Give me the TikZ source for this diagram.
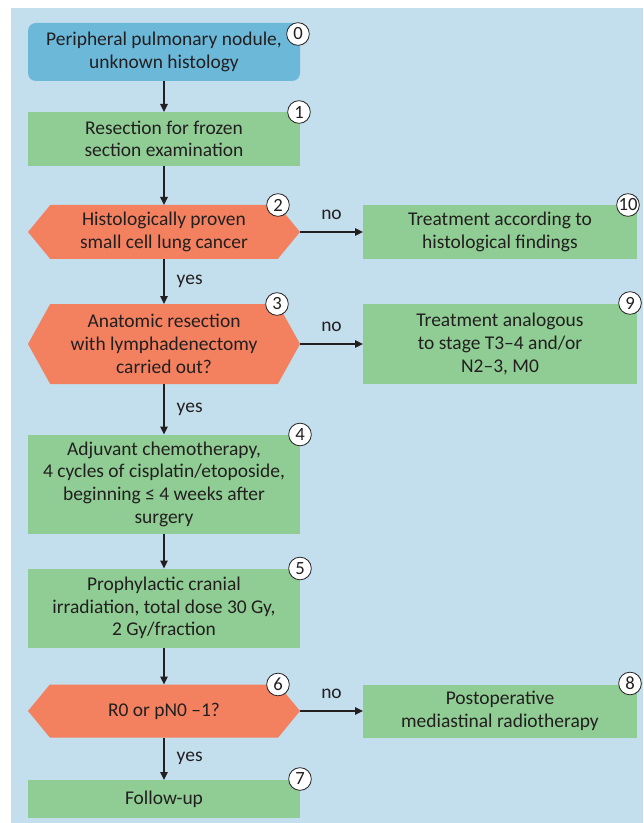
\documentclass[tikz,border=0pt]{standalone}
\usepackage{fontspec}
\setmainfont{Carlito}
\usetikzlibrary{arrows.meta,positioning,calc,shapes.symbols}
\definecolor{panel}{HTML}{C3DFEE}
\definecolor{startc}{HTML}{6BB8D9}
\definecolor{actc}{HTML}{8FCD94}
\definecolor{askc}{HTML}{F3815F}
\definecolor{ink}{HTML}{231F20}

\begin{document}
\begin{tikzpicture}[x=0.75pt, y=-0.75pt,
    base/.style={align=center, text=ink, font=\fontsize{14.6}{17}\selectfont, inner sep=0pt, outer sep=0pt},
    startbox/.style={base, fill=startc, rounded corners=6pt, minimum width=204pt, minimum height=43.5pt},
    actbox/.style={base, fill=actc, minimum width=204pt},
    askbox/.style={base, fill=askc, signal, signal to=west and east, minimum width=204pt},
    num/.style={circle, draw=ink, fill=white, line width=0.6pt, inner sep=0pt, minimum size=17pt,
                font=\fontsize{14}{14}\selectfont, text=ink},
    flow/.style={draw=ink, line width=1.1pt, -{Triangle[length=6pt,width=5.5pt]}},
    lbl/.style={font=\fontsize{14.6}{15}\selectfont, text=ink, inner sep=0pt}]
  \path[use as bounding box] (0,0) rectangle (643,823);
  \fill[panel] (11,8) rectangle (643,823);

  % left column
  \node[startbox] (n0) at (164,52) {Peripheral pulmonary nodule,\\unknown histology};
  \node[actbox, minimum height=40.5pt] (n1) at (164,139) {Resection for frozen\\section examination};
  \node[askbox, minimum height=40.5pt, signal pointer angle=101] (n2) at (164,232) {Histologically proven\\small cell lung cancer};
  \node[askbox, minimum height=60pt, signal pointer angle=122] (n3) at (164,344) {Anatomic resection\\with lymphadenectomy\\carried out?};
  \node[actbox, minimum height=74.25pt] (n4) at (164,484) {Adjuvant chemotherapy,\\4 cycles of cisplatin/etoposide,\\beginning ≤ 4 weeks after\\surgery};
  \node[actbox, minimum height=59.25pt] (n5) at (164,608) {Prophylactic cranial\\irradiation, total dose 30 Gy,\\2 Gy/fraction};
  \node[askbox, minimum height=39.75pt, signal pointer angle=101] (n6) at (164,711) {R0 or pN0 –1?};
  \node[actbox, minimum height=28.5pt] (n7) at (164,799) {Follow-up};

  % right column
  \node[actbox, minimum width=205.5pt, minimum height=40.5pt] (n10) at (500,232) {Treatment according to\\histological findings};
  \node[actbox, minimum width=205.5pt, minimum height=60pt] (n9) at (500,344) {Treatment analogous\\to stage T3–4 and/or\\N2–3, M0};
  \node[actbox, minimum width=205.5pt, minimum height=39.75pt] (n8) at (500,711) {Postoperative\\mediastinal radiotherapy};

  % connectors
  \draw[flow] (n0.south) -- (n1.north);
  \draw[flow] (n1.south) -- (n2.north);
  \draw[flow] (n2.south) -- node[lbl, right=9pt] {yes} (n3.north);
  \draw[flow] (n3.south) -- node[lbl, right=9pt] {yes} (n4.north);
  \draw[flow] (n4.south) -- (n5.north);
  \draw[flow] (n5.south) -- (n6.north);
  \draw[flow] (n6.south) -- node[lbl, right=9pt] {yes} (n7.north);
  \draw[flow] (n2.east) -- node[lbl, above=9pt] {no} (n10.west);
  \draw[flow] (n3.east) -- node[lbl, above=9pt] {no} (n9.west);
  \draw[flow] (n6.east) -- node[lbl, above=9pt] {no} (n8.west);

  % step numbers
  \foreach \nm/\k/\dx/\dy in {n0/0/134/11, n1/1/135/0, n2/2/114/0, n3/3/113/0, n4/4/136/0,
                             n5/5/136/0, n6/6/114/0, n7/7/136/-1, n8/8/130/-1, n9/9/130/-1, n10/10/128/0}
    \node[num] (c\k) at ($(\nm.north)+(\dx,\dy)$) {\k};
\end{tikzpicture}
\end{document}
